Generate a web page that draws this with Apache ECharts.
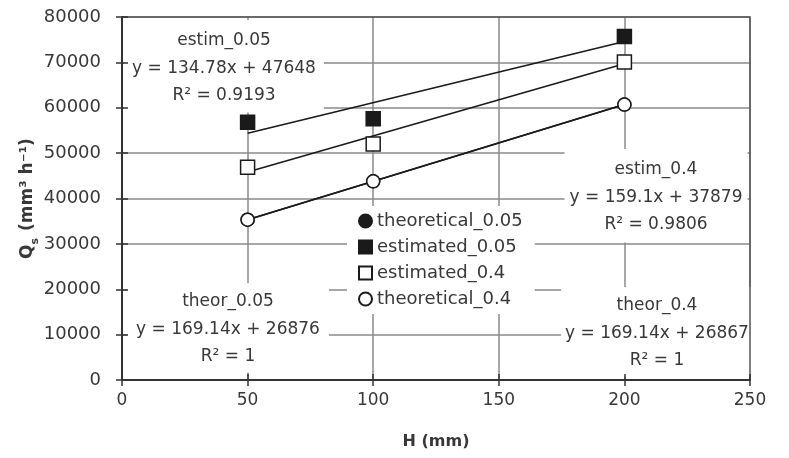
<!DOCTYPE html>
<html>
<head>
<meta charset="utf-8">
<script src="https://cdn.jsdelivr.net/npm/echarts@6/dist/echarts.min.js"></script>
<style>
  html, body { margin: 0; padding: 0; background: #fff; }
  #chart { width: 789px; height: 458px; }
</style>
</head>
<body>
<div id="chart"></div>
<script>
// H (mm)
const hValues = [50, 100, 200];
// Qs (mm3 h-1)
const theoretical005 = [35330, 43790, 60700];
const estimated005 = [56800, 57600, 75700];
const estimated04 = [46900, 52000, 70100];
const theoretical04 = [35320, 43780, 60700];
// trendline end points at H = 50 and H = 200
const trendH = [50, 200];
const trendEstim005 = [54387, 74604];
const trendEstim04 = [45834, 69699];
const trendTheor005 = [35333, 60704];
const trendTheor04 = [35324, 60695];

const xTicks = [0, 50, 100, 150, 200, 250];
const yTicks = [0, 10000, 20000, 30000, 40000, 50000, 60000, 70000, 80000];

const FONT = '"DejaVu Sans", "Open Sans", sans-serif';
const TXT = '#383838';
const INK = '#1a1a1a';

function pairs(xs, ys) {
  return xs.map((x, i) => [x, ys[i]]);
}

let myChart = echarts.init(document.getElementById('chart'));

function axisBase(extra) {
  return Object.assign({
    type: 'value',
    offset: 0,
    axisLabel: { show: false },
    axisTick: { show: false },
    axisLine: { show: false },
    splitLine: { show: false }
  }, extra);
}

const xRange = { min: xTicks[0], max: xTicks[xTicks.length - 1], interval: 50, position: 'bottom' };
const yRange = { min: yTicks[0], max: yTicks[yTicks.length - 1], interval: 10000, position: 'left' };

function markerSeries(name, data, symbol, filled, size) {
  return {
    name: name,
    type: 'scatter',
    data: pairs(hValues, data),
    symbol: symbol,
    symbolSize: size,
    z: 6,
    itemStyle: {
      color: filled ? INK : '#fff',
      borderColor: INK,
      borderWidth: 1.5,
      opacity: 1
    }
  };
}

function trendSeries(data) {
  return {
    type: 'line',
    data: pairs(trendH, data),
    showSymbol: false,
    symbol: 'none',
    silent: true,
    z: 5,
    lineStyle: { color: INK, width: 1.6 }
  };
}

// trendline label box, white background hides the grid behind it
function note(lines, cx, top, pad) {
  return {
    type: 'text',
    z: 3,
    x: cx,
    y: top,
    style: {
      text: lines.join('\n'),
      font: '17px ' + FONT,
      fill: TXT,
      align: 'center',
      verticalAlign: 'top',
      lineHeight: 27.5,
      backgroundColor: '#fff',
      padding: pad
    }
  };
}

let option = {
  backgroundColor: '#fff',
  animation: false,
  textStyle: { fontFamily: FONT },
  grid: {
    left: 122, right: 39, top: 17, bottom: 78,
    outerBoundsMode: 'none',
    containLabel: false,
    show: true,
    z: 8,
    borderColor: '#555',
    borderWidth: 1.5,
    backgroundColor: 'transparent'
  },
  xAxis: [
    axisBase(Object.assign({
      z: 0,
      splitLine: { show: true, lineStyle: { color: '#8a8a8a', width: 1.5 } }
    }, xRange)),
    axisBase(Object.assign({
      z: 9,
      name: 'H (mm)',
      nameLocation: 'middle',
      nameGap: 54,
      nameMoveOverlap: false,
      nameTextStyle: { fontSize: 16, fontWeight: 'bold', color: TXT, fontFamily: FONT },
      axisLine: { show: true, onZero: false, lineStyle: { color: '#333', width: 2 } },
      axisTick: { show: true, length: 6, lineStyle: { color: '#333', width: 1.5 } },
      axisLabel: { show: true, fontSize: 17, color: TXT, margin: 12, fontFamily: FONT, formatter: v => String(v) }
    }, xRange)),
    axisBase(Object.assign({
      z: 9,
      axisTick: { show: true, inside: true, length: 6, lineStyle: { color: '#333', width: 1.5 } }
    }, xRange))
  ],
  yAxis: [
    axisBase(Object.assign({
      z: 0,
      splitLine: { show: true, lineStyle: { color: '#8a8a8a', width: 1.5 } }
    }, yRange)),
    axisBase(Object.assign({
      z: 9,
      name: '{q|Q}{s|s}{q| (mm³ h⁻¹)}',
      nameLocation: 'middle',
      nameGap: 81,
      nameMoveOverlap: false,
      nameTextStyle: {
        rich: {
          q: { fontSize: 17, fontWeight: 'bold', color: TXT, fontFamily: FONT, lineHeight: 21, verticalAlign: 'top' },
          s: { fontSize: 11, fontWeight: 'bold', color: TXT, fontFamily: FONT, verticalAlign: 'top', padding: [11, 1, 0, 0] }
        }
      },
      axisLine: { show: true, onZero: false, lineStyle: { color: '#333', width: 2 } },
      axisTick: { show: true, length: 6, lineStyle: { color: '#333', width: 1.5 } },
      axisLabel: { show: true, fontSize: 18, color: TXT, margin: 21, fontFamily: FONT, formatter: v => String(v) }
    }, yRange)),
    axisBase(Object.assign({
      z: 9,
      axisTick: { show: true, inside: true, length: 6, lineStyle: { color: '#333', width: 1.5 } }
    }, yRange))
  ],
  legend: {
    orient: 'vertical',
    left: 347,
    top: 206,
    z: 7,
    padding: [6, 12, 6, 11],
    backgroundColor: '#fff',
    itemWidth: 13,
    itemHeight: 13,
    itemGap: 8,
    textStyle: { fontSize: 18, color: TXT, fontFamily: FONT },
    data: [
      { name: 'theoretical_0.05', icon: 'circle' },
      { name: 'estimated_0.05', icon: 'rect' },
      { name: 'estimated_0.4', icon: 'rect' },
      { name: 'theoretical_0.4', icon: 'circle' }
    ]
  },
  graphic: {
    z: 3,
    elements: [
      note(['estim_0.05', 'y = 134.78x + 47648', 'R² = 0.9193'], 224, 20, [7, 8, 3, 8]),
      note(['estim_0.4', 'y = 159.1x + 37879', 'R² = 0.9806'], 656, 149, [7, 5, 4, 5]),
      note(['theor_0.05', 'y = 169.14x + 26876', 'R² = 1'], 228, 283, [5, 9, 2, 9]),
      note(['theor_0.4', 'y = 169.14x + 26867', 'R² = 1'], 657, 287, [5, 4, 2, 4])
    ]
  },
  series: [
    trendSeries(trendEstim005),
    trendSeries(trendEstim04),
    trendSeries(trendTheor005),
    trendSeries(trendTheor04),
    markerSeries('theoretical_0.05', theoretical005, 'circle', true, 13),
    markerSeries('estimated_0.05', estimated005, 'rect', true, 14),
    markerSeries('estimated_0.4', estimated04, 'rect', false, 14),
    markerSeries('theoretical_0.4', theoretical04, 'circle', false, 13)
  ]
};

option && myChart.setOption(option);
</script>
</body>
</html>
